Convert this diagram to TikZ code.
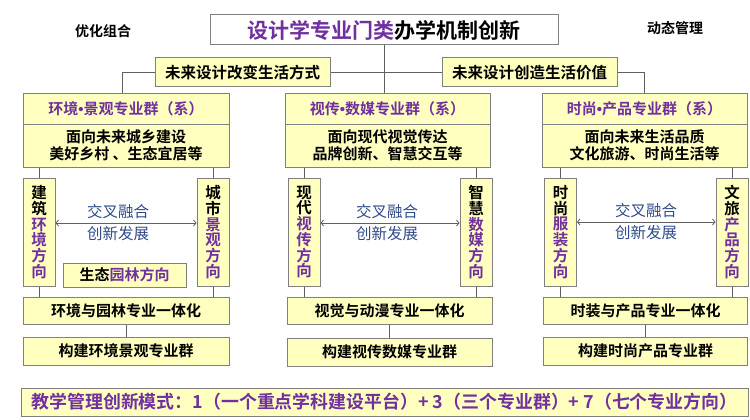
\documentclass[tikz,border=0pt]{standalone}
\usepackage{graphicx}
\usepackage{fontspec}
\setmainfont{Noto Sans CJK SC}[BoldFont={Noto Sans CJK SC Bold}]
\newfontfamily\latinf{Liberation Sans}
\usetikzlibrary{arrows.meta,calc}
\definecolor{boxfill}{HTML}{FFFFC0}
\definecolor{boxline}{HTML}{808080}
\definecolor{pur}{HTML}{7030A0}
\definecolor{dblue}{HTML}{2F4B8A}
\definecolor{connc}{HTML}{606060}
\newcommand{\mdot}{{\latinf\bfseries •}}
\begin{document}
\begin{tikzpicture}[x=1pt,y=-1pt,
  box/.style={draw=boxline,line width=1pt,fill=boxfill,inner sep=0pt,align=center,
    font=\fontsize{15}{17}\selectfont\bfseries},
  hdr/.style={box,text=pur,minimum width=#1,minimum height=30pt},
  desc/.style={box,minimum width=#1,minimum height=43pt},
  vbox/.style={box,minimum width=32pt,minimum height=108pt,font=\fontsize{15.5}{15.7}\selectfont\bfseries},
  rowbox/.style={box,minimum width=#1,minimum height=27pt},
  label/.style={font=\fontsize{14}{16}\selectfont\bfseries,inner sep=0pt},
  fuse/.style={font=\fontsize{15.5}{22}\selectfont,text=dblue,align=center,inner sep=0pt},
  conn/.style={draw=connc,line width=0.9pt},
  arr/.style={draw=connc,line width=0.8pt,<->,>={Straight Barb[length=2.5pt,width=6pt]}}]
\useasboundingbox (0,0) rectangle (750,420);

% title and side labels
\node[box,fill=white,minimum width=348pt,minimum height=30pt,
  font=\fontsize{21}{24}\selectfont\bfseries] (title) at (384,30)
  {\textcolor{pur}{设计学专业门类}办学机制创新};
\node[label] (opt) at (103,31) {优化组合};
\node[label] (dyn) at (675,28) {动态管理};

% two bars
\node[box,minimum width=175pt,minimum height=29pt,font=\fontsize{15.5}{17}\selectfont\bfseries] (lbar) at (242.5,72.5) {未来设计改变生活方式};
\node[box,minimum width=175pt,minimum height=29pt,font=\fontsize{15.5}{17}\selectfont\bfseries] (rbar) at (529.5,72.5) {未来设计创造生活价值};

% group headers
\node[hdr=206pt] (lh) at (126,109) {环境\mdot 景观专业群（系）};
\node[hdr=205pt] (mh) at (387.5,109) {视传\mdot 数媒专业群（系）};
\node[hdr=205pt] (rh) at (644.5,109) {时尚\mdot 产品专业群（系）};

\node[desc=206pt] (ld) at (126,145.5) {面向未来城乡建设\\美好乡村 、生态宜居等};
\node[desc=205pt] (md) at (387.5,145.5) {面向现代视觉传达\\品牌创新、智慧交互等};
\node[desc=205pt] (rd) at (644.5,145.5) {面向未来生活品质\\文化旅游、时尚生活等};

% vertical direction boxes
\node[vbox] (l1) at (39,232) {建\\筑\\\textcolor{pur}{环}\\\textcolor{pur}{境}\\\textcolor{pur}{方}\\\textcolor{pur}{向}};
\node[vbox] (l2) at (213,232) {城\\市\\\textcolor{pur}{景}\\\textcolor{pur}{观}\\\textcolor{pur}{方}\\\textcolor{pur}{向}};
\node[vbox] (m1) at (304,232) {现\\代\\\textcolor{pur}{视}\\\textcolor{pur}{传}\\\textcolor{pur}{方}\\\textcolor{pur}{向}};
\node[vbox] (m2) at (476,232) {智\\慧\\\textcolor{pur}{数}\\\textcolor{pur}{媒}\\\textcolor{pur}{方}\\\textcolor{pur}{向}};
\node[vbox] (r1) at (560.5,232) {时\\尚\\\textcolor{pur}{服}\\\textcolor{pur}{装}\\\textcolor{pur}{方}\\\textcolor{pur}{向}};
\node[vbox] (r2) at (732,232) {文\\旅\\\textcolor{pur}{产}\\\textcolor{pur}{品}\\\textcolor{pur}{方}\\\textcolor{pur}{向}};

\node[box,minimum width=123pt,minimum height=24pt] (eco) at (124.5,275) {生态\textcolor{pur}{园林方向}};

% fusion texts
\node[fuse] (lf) at (118,223) {交叉融合\\创新发展};
\node[fuse] (mf) at (387,223) {交叉融合\\创新发展};
\node[fuse] (rf) at (646,222) {交叉融合\\创新发展};

% integration rows
\node[rowbox=206pt] (li) at (126,311) {环境与园林专业一体化};
\node[rowbox=205pt] (mi) at (389.5,311) {视觉与动漫专业一体化};
\node[rowbox=204pt] (ri) at (645.5,311) {时装与产品专业一体化};

\node[rowbox=206pt,minimum height=28pt] (lb) at (126,351) {构建环境景观专业群};
\node[rowbox=205pt,minimum height=28pt] (mb) at (389.5,352) {构建视传数媒专业群};
\node[rowbox=204pt,minimum height=28pt] (rb) at (645.5,351) {构建时尚产品专业群};

% bottom banner
\node[box,minimum width=727pt,minimum height=28pt,text=pur,
  font=\fontsize{18}{20}\selectfont\bfseries] (banner) at (384.5,402)
  {\resizebox{706pt}{!}{教学管理创新模式：1（一个重点学科建设平台）+ 3（三个专业群）+ 7（七个专业方向）}};

% connectors
\draw[conn] (title.south) -- (title.south |- mh.north);
\draw[conn] (lbar.east) -- (rbar.west);
\draw[conn] (lbar.west) -| ([xshift=-4pt]lh.north);
\draw[conn] (rbar.east) -| (rh.north);

\foreach \d/\v in {ld/l1,ld/l2,md/m1,md/m2,rd/r1,rd/r2}{
  \draw[conn] (\d.south -| \v.north) -- (\v.north);
}
\foreach \v/\i in {l1/li,l2/li,m1/mi,m2/mi,r1/ri,r2/ri}{
  \draw[conn] (\v.south) -- (\v.south |- \i.north);
}
\draw[conn] (li.south) -- (lb.north);
\draw[conn] (mi.south) -- (mb.north);
\draw[conn] (ri.south) -- (rb.north);

% cross arrows
\draw[arr] ([yshift=9pt]l1.east) -- ([yshift=9pt]l2.west);
\draw[arr] ([yshift=9pt]m1.east) -- ([yshift=9pt]m2.west);
\draw[arr] ([yshift=10pt]r1.east) -- ([yshift=10pt]r2.west);
\end{tikzpicture}
\end{document}
